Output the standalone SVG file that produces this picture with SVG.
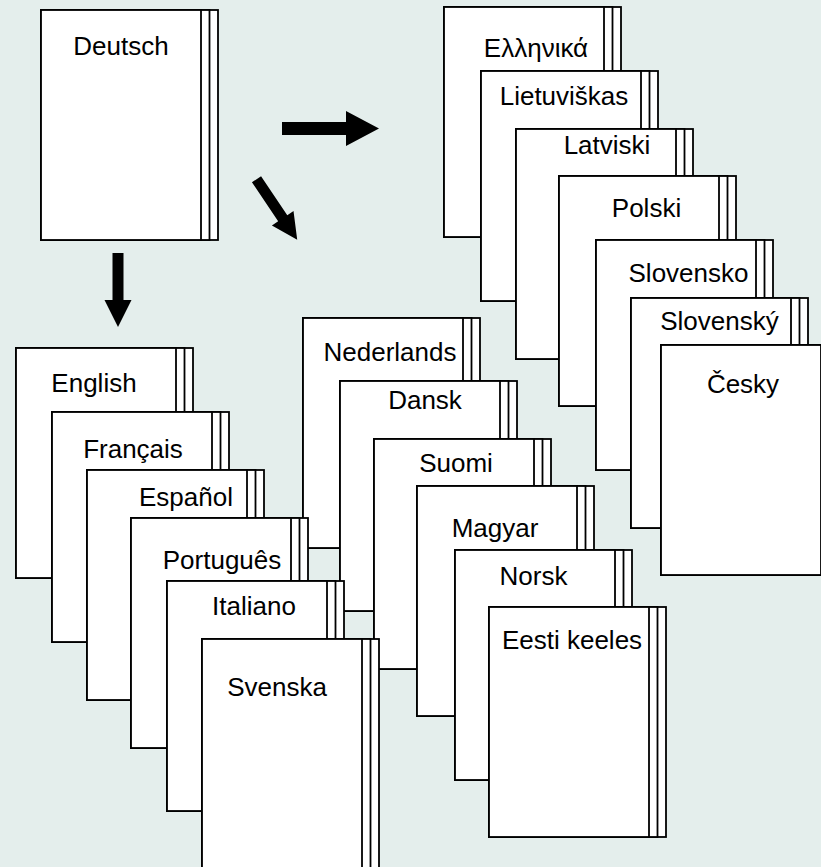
<svg xmlns="http://www.w3.org/2000/svg" xmlns:xlink="http://www.w3.org/1999/xlink" width="821" height="867" viewBox="0 0 821 867">
<style>
.pg{fill:#fff;stroke:#000;stroke-width:1.8}
.lb{font-family:"Liberation Sans",Arial,sans-serif;font-size:26px;fill:#000;text-anchor:middle}
.ar{fill:#000;stroke:none}
</style>
<defs>
<g id="book">
<rect class="pg" x="0" y="0" width="177" height="230"/>
<rect class="pg" x="0" y="0" width="168.5" height="230"/>
<rect class="pg" x="0" y="0" width="160" height="230"/>
</g>
</defs>
<rect x="0" y="0" width="821" height="867" fill="#E4EEEC"/>

<g id="ellinika"><use href="#book" x="444" y="7"/><text class="lb" x="536" y="57">Ελληνικά</text></g>
<g id="lietuviskas"><use href="#book" x="481" y="71"/><text class="lb" x="564" y="105">Lietuviškas</text></g>
<g id="latviski"><use href="#book" x="516" y="129"/><text class="lb" x="607" y="154">Latviski</text></g>
<g id="polski"><use href="#book" x="559" y="176"/><text class="lb" x="646.5" y="217">Polski</text></g>
<g id="slovensko"><use href="#book" x="596" y="240"/><text class="lb" x="688.5" y="282">Slovensko</text></g>
<g id="slovensky"><use href="#book" x="631" y="298"/><text class="lb" x="719.5" y="330">Slovenský</text></g>
<g id="cesky"><use href="#book" x="661" y="345"/><text class="lb" x="743" y="393">Česky</text></g>

<g id="nederlands"><use href="#book" x="303" y="318"/><text class="lb" x="390" y="361">Nederlands</text></g>
<g id="dansk"><use href="#book" x="340" y="381"/><text class="lb" x="425" y="409">Dansk</text></g>
<g id="suomi"><use href="#book" x="374" y="439"/><text class="lb" x="456" y="472">Suomi</text></g>
<g id="magyar"><use href="#book" x="417" y="486"/><text class="lb" x="495" y="537">Magyar</text></g>
<g id="norsk"><use href="#book" x="455" y="550"/><text class="lb" x="533.5" y="585">Norsk</text></g>
<g id="eesti"><use href="#book" x="489" y="607"/><text class="lb" x="572" y="649">Eesti keeles</text></g>

<g id="english"><use href="#book" x="16" y="348"/><text class="lb" x="94" y="392">English</text></g>
<g id="francais"><use href="#book" x="52" y="412"/><text class="lb" x="133" y="458">Français</text></g>
<g id="espanol"><use href="#book" x="87" y="470"/><text class="lb" x="186" y="506">Español</text></g>
<g id="portugues"><use href="#book" x="131" y="518"/><text class="lb" x="222" y="569">Português</text></g>
<g id="italiano"><use href="#book" x="167" y="581"/><text class="lb" x="254" y="615">Italiano</text></g>
<g id="svenska"><use href="#book" x="202" y="639"/><text class="lb" x="277" y="696">Svenska</text></g>

<g id="deutsch"><use href="#book" x="41" y="10"/><text class="lb" x="121" y="55">Deutsch</text></g>

<g id="connectors">
<polygon class="ar" transform="translate(282,128.5)" points="0,-6.5 64,-6.5 64,-17.5 97,0 64,17.5 64,6.5 0,6.5"/>
<polygon class="ar" transform="translate(256.5,179.2) rotate(56.1)" points="0,-5.5 47,-5.5 47,-13 73,0 47,13 47,5.5 0,5.5"/>
<polygon class="ar" transform="translate(118,253) rotate(90)" points="0,-5.5 47,-5.5 47,-13.5 74,0 47,13.5 47,5.5 0,5.5"/>
</g>
</svg>
